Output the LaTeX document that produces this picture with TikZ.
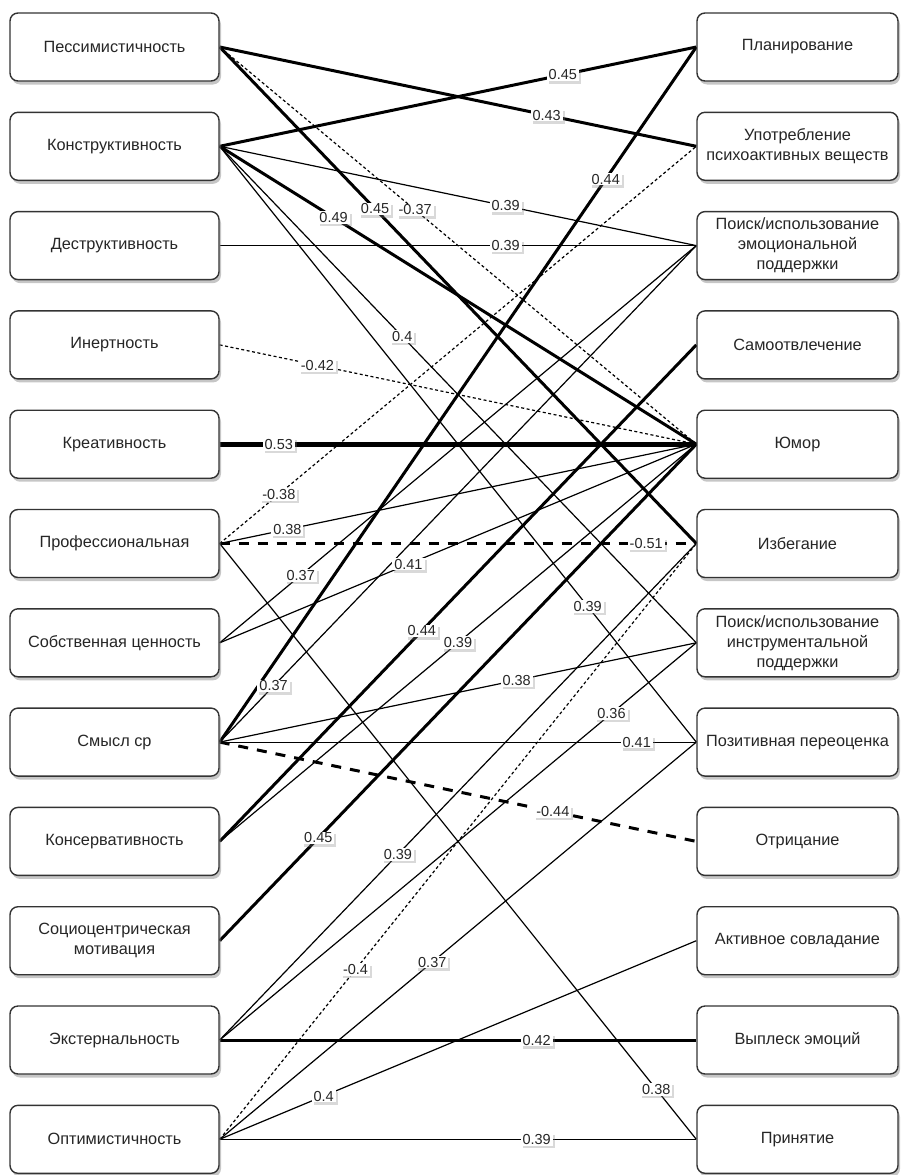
\documentclass[tikz,border=0pt]{standalone}
\usepackage{fontspec}
\setmainfont{Liberation Sans}
\usetikzlibrary{shadows}
\pgfdeclarelayer{lines}
\pgfsetlayers{lines,main}

% one correlation: line on the lower layer, its value on top
\newcommand\corr[5]{%
  \begin{pgfonlayer}{lines}\draw[#1] (#2.east) -- (#3.west);\end{pgfonlayer}
  \path (#2.east) -- node[lbl,pos=#4]{#5} (#3.west);}

\begin{document}
\begin{tikzpicture}[x=1pt,y=-1pt,
  boxbase/.style={draw=black!80, line width=1.4pt, rounded corners=8pt, fill=white,
    minimum height=68pt, align=center, inner sep=2pt, text=black!85,
    font=\fontsize{16.3}{20}\selectfont,
    drop shadow={shadow xshift=2pt, shadow yshift=-3.5pt, opacity=0.45}},
  lbox/.style={boxbase, minimum width=209pt},
  rbox/.style={boxbase, minimum width=201pt},
  lbl/.style={fill=white, inner xsep=2pt, inner ysep=1.2pt, text=black!85,
    font=\fontsize{14.5}{15}\selectfont,
    drop shadow={shadow xshift=2pt, shadow yshift=-2.5pt, opacity=0.3}},
  wthin/.style={line width=1.2pt, black},
  wthick/.style={line width=3pt, black},
  wvthick/.style={line width=5pt, black},
  dthin/.style={line width=1.2pt, black, dash pattern=on 3pt off 2.5pt},
  dthick/.style={line width=3pt, black, dash pattern=on 10pt off 9pt},
]
\useasboundingbox (0,0) rectangle (901,1175);

% personality traits (left column)
\node[lbox] (L0)  at (114.5,47)    {Пессимистичность};
\node[lbox] (L1)  at (114.5,146.3) {Конструктивность};
\node[lbox] (L2)  at (114.5,245.6) {Деструктивность};
\node[lbox] (L3)  at (114.5,344.9) {Инертность};
\node[lbox] (L4)  at (114.5,444.2) {Креативность};
\node[lbox] (L5)  at (114.5,543.5) {Профессиональная};
\node[lbox] (L6)  at (114.5,642.8) {Собственная ценность};
\node[lbox] (L7)  at (114.5,742.1) {Смысл ср};
\node[lbox] (L8)  at (114.5,841.4) {Консервативность};
\node[lbox] (L9)  at (114.5,940.7) {Социоцентрическая\\мотивация};
\node[lbox] (L10) at (114.5,1040)  {Экстернальность};
\node[lbox] (L11) at (114.5,1139.3){Оптимистичность};

% coping strategies (right column)
\node[rbox] (R0)  at (797.5,47)    {Планирование};
\node[rbox] (R1)  at (797.5,146.3) {Употребление\\психоактивных веществ};
\node[rbox] (R2)  at (797.5,245.6) {Поиск/использование\\эмоциональной\\поддержки};
\node[rbox] (R3)  at (797.5,344.9) {Самоотвлечение};
\node[rbox] (R4)  at (797.5,444.2) {Юмор};
\node[rbox] (R5)  at (797.5,543.5) {Избегание};
\node[rbox] (R6)  at (797.5,642.8) {Поиск/использование\\инструментальной\\поддержки};
\node[rbox] (R7)  at (797.5,742.1) {Позитивная переоценка};
\node[rbox] (R8)  at (797.5,841.4) {Отрицание};
\node[rbox] (R9)  at (797.5,940.7) {Активное совладание};
\node[rbox] (R10) at (797.5,1040)  {Выплеск эмоций};
\node[rbox] (R11) at (797.5,1139.3){Принятие};

% correlations
\corr{wthick}{L0}{R1}{0.686}{0.43}
\corr{wthick}{L0}{R5}{0.326}{0.45}
\corr{dthin}{L0}{R4}{0.41}{-0.37}
\corr{wthick}{L1}{R0}{0.72}{0.45}
\corr{wthin}{L1}{R2}{0.60}{0.39}
\corr{wthick}{L1}{R4}{0.239}{0.49}
\corr{wthin}{L1}{R6}{0.383}{0.4}
\corr{wthin}{L1}{R7}{0.772}{0.39}
\corr{wthin}{L2}{R2}{0.60}{0.39}
\corr{dthin}{L3}{R4}{0.205}{-0.42}
\corr{wvthick}{L4}{R4}{0.124}{0.53}
\corr{dthin}{L5}{R1}{0.124}{-0.38}
\corr{wthin}{L5}{R4}{0.142}{0.38}
\corr{dthick}{L5}{R5}{0.895}{-0.51}
\corr{wthin}{L5}{R11}{0.916}{0.38}
\corr{wthin}{L6}{R2}{0.17}{0.37}
\corr{wthin}{L6}{R4}{0.396}{0.41}
\corr{wthick}{L7}{R0}{0.81}{0.44}
\corr{wthin}{L7}{R2}{0.113}{0.37}
\corr{wthin}{L7}{R6}{0.623}{0.38}
\corr{wthin}{L7}{R7}{0.875}{0.41}
\corr{dthick}{L7}{R8}{0.699}{-0.44}
\corr{wthick}{L8}{R3}{0.424}{0.44}
\corr{wthin}{L8}{R4}{0.50}{0.39}
\corr{wthick}{L9}{R4}{0.207}{0.45}
\corr{wthin}{L10}{R5}{0.374}{0.39}
\corr{wthin}{L10}{R6}{0.822}{0.36}
\corr{wthick}{L10}{R10}{0.665}{0.42}
\corr{dthin}{L11}{R5}{0.285}{-0.4}
\corr{wthin}{L11}{R7}{0.446}{0.37}
\corr{wthin}{L11}{R9}{0.218}{0.4}
\corr{wthin}{L11}{R11}{0.665}{0.39}
\end{tikzpicture}
\end{document}
